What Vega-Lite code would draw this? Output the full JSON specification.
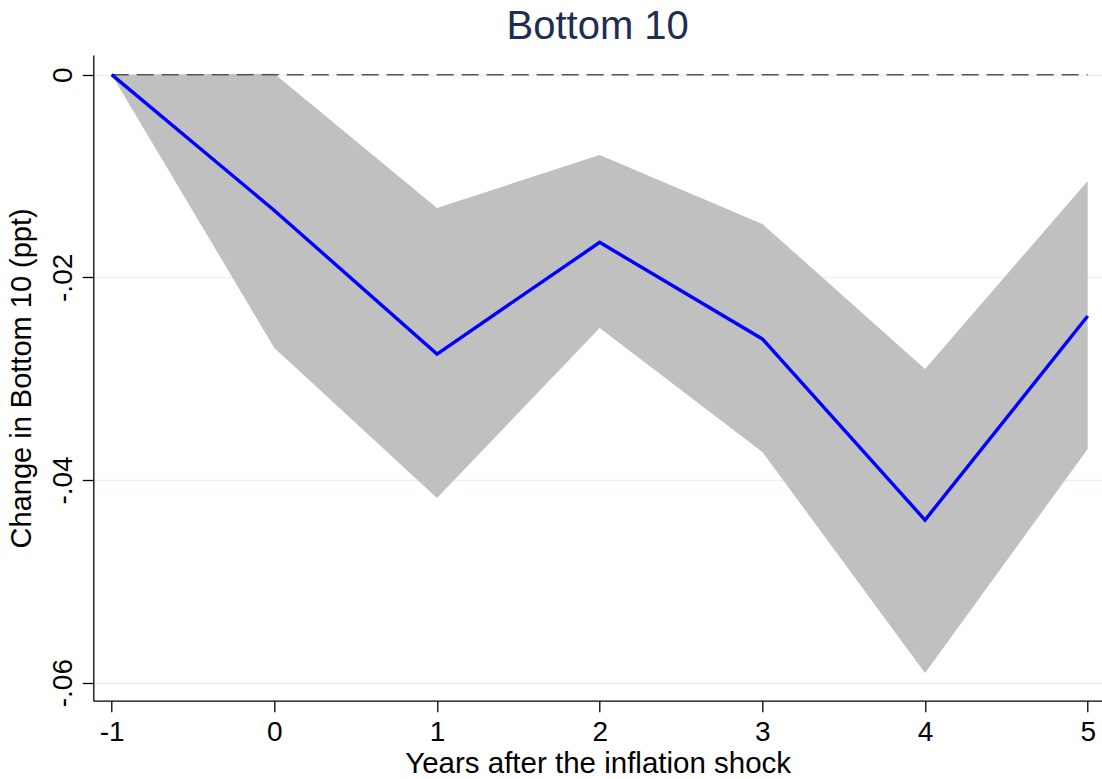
{
  "$schema": "https://vega.github.io/schema/vega-lite/v6.json",
  "autosize": {"type": "none"},
  "padding": {"left": 93.3, "top": 55, "right": 0, "bottom": 78.3},
  "width": 1008.7,
  "height": 645.7,
  "background": "white",
  "config": {
    "view": {"stroke": null},
    "font": "Liberation Sans"
  },
  "title": {
    "text": "Bottom 10",
    "fontSize": 40,
    "font": "Liberation Sans",
    "fontWeight": "normal",
    "color": "#1F2D52",
    "anchor": "middle",
    "frame": "group",
    "offset": 8
  },
  "data": {
    "values": [
      {"year": -1, "est": 0, "upper": 0, "lower": 0},
      {"year": 0, "est": -0.0134, "upper": 0.0001, "lower": -0.02697},
      {"year": 1, "est": -0.02757, "upper": -0.01316, "lower": -0.04177},
      {"year": 2, "est": -0.01655, "upper": -0.00792, "lower": -0.025},
      {"year": 3, "est": -0.02608, "upper": -0.01473, "lower": -0.03723},
      {"year": 4, "est": -0.04395, "upper": -0.02904, "lower": -0.05904},
      {"year": 5, "est": -0.02382, "upper": -0.01049, "lower": -0.03694}
    ]
  },
  "encoding": {
    "x": {
      "field": "year",
      "type": "quantitative",
      "scale": {"domain": [-1.113, 5.088], "nice": false, "zero": false},
      "axis": {
        "title": "Years after the inflation shock",
        "values": [-1, 0, 1, 2, 3, 4, 5],
        "labelExpr": "datum.value < 0 ? '-' + format(-datum.value, 'd') : format(datum.value, 'd')",
        "grid": false,
        "labelFontSize": 28,
        "labelColor": "black",
        "labelFont": "Liberation Sans",
        "labelPadding": 7,
        "tickSize": 11,
        "tickColor": "black",
        "tickWidth": 1.3,
        "domainColor": "black",
        "domainWidth": 1.3,
        "titleFontSize": 29.5,
        "titleFontWeight": "normal",
        "titleColor": "black",
        "titleFont": "Liberation Sans",
        "titlePadding": 3
      }
    }
  },
  "layer": [
    {
      "mark": {"type": "area", "color": "#C0C0C0", "opacity": 1},
      "encoding": {
        "y": {
          "field": "upper",
          "type": "quantitative",
          "scale": {"domain": [-0.06178, 0.00194], "nice": false, "zero": false},
          "axis": {
            "title": "Change in Bottom 10 (ppt)",
            "values": [-0.06, -0.04, -0.02, 0],
            "labelExpr": "datum.value == 0 ? '0' : '-' + replace(format(-datum.value, '.2f'), '0.', '.')",
            "grid": true,
            "gridColor": "#EAF2F3",
            "gridWidth": 1.5,
            "labelAngle": -90,
            "labelAlign": "center",
            "labelBaseline": "alphabetic",
            "labelPadding": 11,
            "labelFontSize": 28,
            "labelColor": "black",
            "labelFont": "Liberation Sans",
            "tickSize": 11,
            "tickColor": "black",
            "tickWidth": 1.3,
            "domainColor": "black",
            "domainWidth": 1.3,
            "titleFontSize": 29,
            "titleFontWeight": "normal",
            "titleColor": "black",
            "titleFont": "Liberation Sans",
            "titlePadding": 13
          }
        },
        "y2": {"field": "lower"}
      }
    },
    {
      "mark": {"type": "line", "color": "#555555", "strokeWidth": 1.5, "strokeDash": [17, 8]},
      "encoding": {
        "y": {"datum": 0, "type": "quantitative"}
      }
    },
    {
      "mark": {"type": "line", "color": "#0000FF", "strokeWidth": 3.4, "strokeJoin": "miter"},
      "encoding": {
        "y": {"field": "est", "type": "quantitative"}
      }
    }
  ]
}
